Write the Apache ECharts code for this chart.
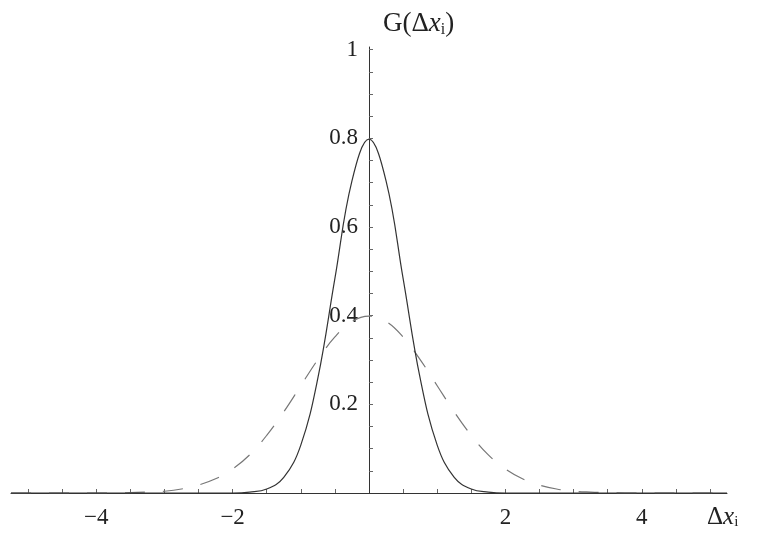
<!DOCTYPE html>
<html><head><meta charset="utf-8">
<script src="https://cdn.jsdelivr.net/npm/echarts@6/dist/echarts.min.js"></script>
<style>html,body{margin:0;padding:0;background:#fff}#c{width:765px;height:533px}</style>
</head><body><div id="c"></div>
<script>
const xValues = [-5.25,-5,-4.75,-4.5,-4.25,-4,-3.75,-3.5,-3.25,-3,-2.75,-2.5,-2.25,-2,
  -1.75,-1.5,-1.25,-1,-0.75,-0.5,-0.25,0,0.25,0.5,0.75,1,1.25,1.5,1.75,
  2,2.25,2.5,2.75,3,3.25,3.5,3.75,4,4.25,4.5,4.75,5,5.25];
const solidValues = [0,0,0,0,0,0,0,0,0,0,0,0,0,0,
  0.002,0.009,0.035,0.108,0.259,0.484,0.704,0.798,0.704,0.484,0.259,0.108,0.035,0.009,0.002,
  0,0,0,0,0,0,0,0,0,0,0,0,0,0];
const dashedValues = [0,0,0,0,0,0,0,
  0.001,0.002,0.004,0.009,0.018,0.032,0.054,0.086,0.130,0.183,0.242,0.301,0.352,0.387,
  0.399,
  0.387,0.352,0.301,0.242,0.183,0.130,0.086,0.054,0.032,0.018,0.009,0.004,0.002,0.001,
  0,0,0,0,0,0,0];
const xTickLabels = [-4,-2,2,4];
const xTickMarks = [-5,-4.5,-4,-3.5,-3,-2.5,-2,-1.5,-1,-0.5,0.5,1,1.5,2,2.5,3,3.5,4,4.5,5];
const yTickLabels = [0.2,0.4,0.6,0.8,1];
const yTickMarks = [0.05,0.1,0.15,0.2,0.25,0.3,0.35,0.4,0.45,0.5,0.55,0.6,0.65,0.7,0.75,0.8,0.85,0.9,0.95,1];
const xAxisTitle = '{t|Δ}{x|x}{s|i}';
const yAxisTitle = '{t|G(Δ}{x|x}{s|i}{t|)}';

const serif = 'Liberation Serif';
function richSet(size){
  return {
    t:{fontFamily:serif,fontSize:size,color:'#222'},
    x:{fontFamily:serif,fontSize:size,fontStyle:'italic',color:'#222'},
    s:{fontFamily:serif,fontSize:Math.round(size*0.6),color:'#222',padding:[Math.round(size*0.4),0,0,0]}
  };
}
const W = 765, gridLeft = 11, gridRight = 38;
const xMin = -5.25, xMax = 5.25;
const zeroOffset = -(W - gridLeft - gridRight) * (0 - xMin) / (xMax - xMin);
const chart = echarts.init(document.getElementById('c'), null, {renderer:'canvas'});
chart.setOption({
  animation:false,
  backgroundColor:'#fff',
  grid:{left:gridLeft,right:gridRight,top:47,bottom:40,containLabel:false,outerBoundsMode:'none'},
  xAxis:{
    type:'value',min:xMin,max:xMax,
    axisLine:{onZero:true,lineStyle:{color:'#333',width:1}},
    axisTick:{show:true,inside:true,length:4,customValues:xTickMarks,lineStyle:{color:'#666'}},
    axisLabel:{customValues:xTickLabels,formatter:v=>String(v).replace('-','\u2212'),
      fontFamily:serif,fontSize:23,color:'#222',margin:13},
    splitLine:{show:false},
    name:xAxisTitle,nameLocation:'end',nameGap:-20,
    nameTextStyle:{align:'left',verticalAlign:'top',padding:[12,0,0,0],rich:richSet(25)}
  },
  yAxis:{
    type:'value',min:0,max:1.006,position:'left',offset:zeroOffset,
    axisLine:{onZero:false,lineStyle:{color:'#333',width:1}},
    axisTick:{show:true,inside:true,length:4,customValues:yTickMarks,lineStyle:{color:'#666'}},
    axisLabel:{customValues:yTickLabels,formatter:v=>String(v),
      fontFamily:serif,fontSize:23,color:'#222',margin:11},
    splitLine:{show:false},
    name:yAxisTitle,nameLocation:'end',nameGap:23,
    nameTextStyle:{align:'left',verticalAlign:'middle',padding:[0,0,0,14],rich:richSet(27)}
  },
  series:[
    {type:'line',data:xValues.map((x,i)=>[x,solidValues[i]]),showSymbol:false,smooth:0.4,
     lineStyle:{color:'#333',width:1.2},z:3},
    {type:'line',data:xValues.map((x,i)=>[x,dashedValues[i]]),showSymbol:false,smooth:0.4,
     lineStyle:{color:'#777',width:1.2,type:[20,18]},z:2}
  ]
});
</script></body></html>
